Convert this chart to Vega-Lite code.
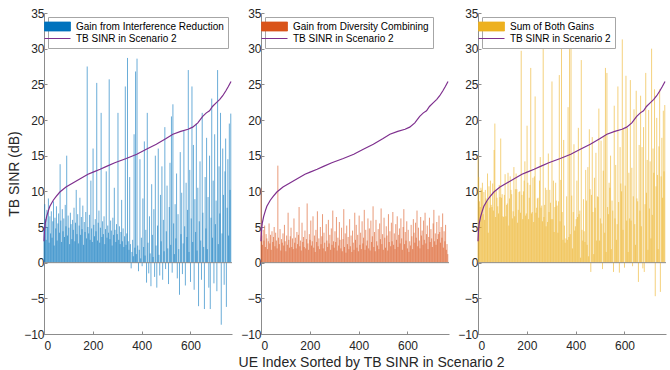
{
"$schema": "https://vega.github.io/schema/vega-lite/v6.json",
"padding": {"left": 7, "top": 7, "right": 3, "bottom": 0},
"background": "white",
"spacing": 6,
"title": {"text": "UE Index Sorted by TB SINR in Scenario 2", "orient": "bottom", "anchor": "middle", "fontSize": 14, "fontWeight": "normal", "font": "Liberation Sans", "color": "#262626", "offset": 5, "dx": 34},
"datasets": {
"ue": [
{"i":0,"a":4.5,"b":10.5,"s":15.0},{"i":3,"a":8.2,"b":3.8,"s":12.0},{"i":6,"a":6.1,"b":2.5,"s":8.6},{"i":9,"a":3.2,"b":4.6,"s":7.8},{"i":12,"a":7.4,"b":3.1,"s":10.5},{"i":15,"a":5.0,"b":5.2,"s":10.2},{"i":18,"a":9.0,"b":2.2,"s":11.2},{"i":21,"a":2.8,"b":4.0,"s":6.8},{"i":24,"a":6.5,"b":3.4,"s":9.9},{"i":27,"a":4.1,"b":1.9,"s":6.0},
{"i":30,"a":7.2,"b":3.0,"s":10.2},{"i":33,"a":3.5,"b":5.5,"s":9.0},{"i":36,"a":5.8,"b":2.7,"s":8.5},{"i":39,"a":8.6,"b":3.9,"s":12.5},{"i":42,"a":2.4,"b":1.8,"s":4.2},{"i":45,"a":6.3,"b":4.4,"s":10.7},{"i":48,"a":4.8,"b":2.9,"s":7.7},{"i":51,"a":7.9,"b":3.6,"s":11.5},{"i":54,"a":3.1,"b":5.0,"s":8.1},{"i":57,"a":5.5,"b":2.3,"s":7.8},
{"i":60,"a":6.9,"b":4.2,"s":11.1},{"i":63,"a":4.2,"b":3.1,"s":7.3},{"i":66,"a":13.8,"b":2.0,"s":15.8},{"i":69,"a":5.9,"b":13.6,"s":19.5},{"i":72,"a":2.9,"b":3.5,"s":6.4},{"i":75,"a":7.5,"b":2.6,"s":10.1},{"i":78,"a":4.4,"b":4.7,"s":9.1},{"i":81,"a":6.2,"b":1.7,"s":7.9},{"i":84,"a":3.6,"b":3.3,"s":6.9},{"i":87,"a":8.1,"b":2.8,"s":10.9},
{"i":90,"a":5.1,"b":4.1,"s":9.2},{"i":93,"a":15.0,"b":2.4,"s":17.4},{"i":96,"a":3.8,"b":5.3,"s":9.1},{"i":99,"a":6.6,"b":3.0,"s":9.6},{"i":102,"a":4.9,"b":1.6,"s":6.5},{"i":105,"a":2.6,"b":3.8,"s":6.4},{"i":108,"a":7.0,"b":2.5,"s":9.5},{"i":111,"a":5.4,"b":7.0,"s":12.4},{"i":114,"a":3.3,"b":3.2,"s":6.5},{"i":117,"a":6.0,"b":2.1,"s":8.1},
{"i":120,"a":4.6,"b":3.7,"s":8.3},{"i":123,"a":7.7,"b":4.9,"s":12.6},{"i":126,"a":3.0,"b":2.2,"s":5.2},{"i":129,"a":5.6,"b":3.4,"s":9.0},{"i":132,"a":10.2,"b":1.9,"s":12.1},{"i":135,"a":4.0,"b":6.2,"s":10.2},{"i":138,"a":6.8,"b":2.8,"s":9.6},{"i":141,"a":2.7,"b":3.5,"s":6.2},{"i":144,"a":5.2,"b":2.0,"s":7.2},{"i":147,"a":9.1,"b":4.3,"s":13.4},
{"i":150,"a":3.9,"b":2.6,"s":6.5},{"i":153,"a":6.4,"b":3.9,"s":10.3},{"i":156,"a":4.7,"b":7.8,"s":12.5},{"i":159,"a":8.0,"b":2.3,"s":10.3},{"i":162,"a":2.5,"b":3.1,"s":5.6},{"i":165,"a":5.7,"b":1.7,"s":7.4},{"i":168,"a":4.3,"b":5.6,"s":9.9},{"i":171,"a":7.1,"b":2.9,"s":10.0},{"i":174,"a":3.4,"b":3.6,"s":7.0},{"i":177,"a":27.5,"b":2.2,"s":29.7},
{"i":180,"a":5.0,"b":4.5,"s":9.5},{"i":183,"a":4.1,"b":2.0,"s":6.1},{"i":186,"a":6.7,"b":3.3,"s":10.0},{"i":189,"a":3.2,"b":8.3,"s":11.5},{"i":192,"a":11.5,"b":2.7,"s":14.2},{"i":195,"a":4.8,"b":1.8,"s":6.6},{"i":198,"a":2.9,"b":4.0,"s":6.9},{"i":201,"a":16.0,"b":3.2,"s":19.2},{"i":204,"a":5.3,"b":5.9,"s":11.2},{"i":207,"a":3.7,"b":2.4,"s":6.1},
{"i":210,"a":6.1,"b":3.0,"s":9.1},{"i":213,"a":4.4,"b":6.5,"s":10.9},{"i":216,"a":25.2,"b":2.1,"s":27.3},{"i":219,"a":3.1,"b":3.8,"s":6.9},{"i":222,"a":5.6,"b":1.5,"s":7.1},{"i":225,"a":7.3,"b":4.6,"s":11.9},{"i":228,"a":2.8,"b":2.9,"s":5.7},{"i":231,"a":4.9,"b":7.2,"s":12.1},{"i":234,"a":21.0,"b":2.3,"s":23.3},{"i":237,"a":3.6,"b":3.4,"s":7.0},
{"i":240,"a":5.8,"b":1.9,"s":7.7},{"i":243,"a":4.0,"b":5.0,"s":9.0},{"i":246,"a":6.5,"b":2.6,"s":9.1},{"i":249,"a":2.6,"b":3.7,"s":6.3},{"i":252,"a":4.7,"b":6.8,"s":11.5},{"i":255,"a":12.8,"b":2.0,"s":14.8},{"i":258,"a":3.5,"b":4.2,"s":7.7},{"i":261,"a":5.2,"b":2.8,"s":8.0},{"i":264,"a":4.2,"b":1.6,"s":5.8},{"i":267,"a":25.7,"b":5.4,"s":31.1},
{"i":270,"a":3.3,"b":3.1,"s":6.4},{"i":273,"a":5.9,"b":2.2,"s":8.1},{"i":276,"a":4.5,"b":6.0,"s":10.5},{"i":279,"a":2.4,"b":2.7,"s":5.1},{"i":282,"a":6.3,"b":3.9,"s":10.2},{"i":285,"a":3.9,"b":1.8,"s":5.7},{"i":288,"a":10.5,"b":4.8,"s":15.3},{"i":291,"a":4.6,"b":2.5,"s":7.1},{"i":294,"a":2.9,"b":7.3,"s":10.2},{"i":297,"a":5.4,"b":3.0,"s":8.4},
{"i":300,"a":4.0,"b":2.1,"s":6.1},{"i":303,"a":21.0,"b":4.4,"s":25.4},{"i":306,"a":3.2,"b":2.9,"s":6.1},{"i":309,"a":5.1,"b":6.4,"s":11.5},{"i":312,"a":2.6,"b":1.7,"s":4.3},{"i":315,"a":4.3,"b":3.5,"s":7.8},{"i":318,"a":8.8,"b":2.4,"s":11.2},{"i":321,"a":3.0,"b":5.7,"s":8.7},{"i":324,"a":4.8,"b":3.2,"s":8.0},{"i":327,"a":2.2,"b":2.0,"s":4.2},
{"i":330,"a":3.7,"b":4.9,"s":8.6},{"i":333,"a":24.7,"b":1.6,"s":26.3},{"i":336,"a":2.5,"b":3.3,"s":5.8},{"i":339,"a":4.1,"b":7.5,"s":11.6},{"i":342,"a":28.7,"b":2.2,"s":30.9},{"i":345,"a":3.0,"b":4.1,"s":7.1},{"i":348,"a":1.8,"b":1.4,"s":3.2},{"i":351,"a":12.0,"b":5.2,"s":17.2},{"i":354,"a":2.6,"b":2.6,"s":5.2},{"i":357,"a":-0.8,"b":3.6,"s":2.8},
{"i":360,"a":1.5,"b":1.9,"s":3.4},{"i":363,"a":3.2,"b":6.1,"s":9.3},{"i":366,"a":0.9,"b":2.3,"s":3.2},{"i":369,"a":18.0,"b":3.8,"s":21.8},{"i":372,"a":2.1,"b":1.5,"s":3.6},{"i":375,"a":26.8,"b":4.5,"s":31.3},{"i":378,"a":1.2,"b":2.8,"s":4.0},{"i":381,"a":28.6,"b":1.8,"s":30.4},{"i":384,"a":2.4,"b":7.0,"s":9.4},{"i":387,"a":-1.2,"b":3.2,"s":2.0},
{"i":390,"a":1.8,"b":5.3,"s":7.1},{"i":393,"a":14.5,"b":2.1,"s":16.6},{"i":396,"a":0.6,"b":3.9,"s":4.5},{"i":399,"a":3.5,"b":1.6,"s":5.1},{"i":402,"a":-0.5,"b":6.6,"s":6.1},{"i":405,"a":9.0,"b":2.5,"s":11.5},{"i":408,"a":2.2,"b":4.2,"s":6.4},{"i":411,"a":17.0,"b":1.9,"s":18.9},{"i":414,"a":1.0,"b":5.8,"s":6.8},{"i":417,"a":4.6,"b":2.7,"s":7.3},
{"i":420,"a":-2.8,"b":3.5,"s":0.7},{"i":423,"a":21.0,"b":7.4,"s":28.4},{"i":426,"a":2.8,"b":1.8,"s":4.6},{"i":429,"a":-1.5,"b":4.6,"s":3.1},{"i":432,"a":6.5,"b":2.4,"s":8.9},{"i":435,"a":1.3,"b":3.1,"s":4.4},{"i":438,"a":-3.3,"b":6.2,"s":2.9},{"i":441,"a":11.0,"b":2.0,"s":13.0},{"i":444,"a":3.9,"b":4.8,"s":8.7},{"i":447,"a":0.8,"b":1.7,"s":2.5},
{"i":450,"a":7.5,"b":5.9,"s":13.4},{"i":453,"a":-2.0,"b":2.9,"s":0.9},{"i":456,"a":15.0,"b":3.7,"s":18.7},{"i":459,"a":2.4,"b":7.9,"s":10.3},{"i":462,"a":-3.5,"b":2.2,"s":-1.3},{"i":465,"a":5.2,"b":4.3,"s":9.5},{"i":468,"a":16.0,"b":1.6,"s":17.6},{"i":471,"a":1.1,"b":6.0,"s":7.1},{"i":474,"a":-1.8,"b":3.0,"s":1.2},{"i":477,"a":9.5,"b":2.4,"s":11.9},
{"i":480,"a":3.0,"b":4.7,"s":7.7},{"i":483,"a":13.5,"b":1.9,"s":15.4},{"i":486,"a":-2.4,"b":5.5,"s":3.1},{"i":489,"a":6.0,"b":3.3,"s":9.3},{"i":492,"a":1.6,"b":7.6,"s":9.2},{"i":495,"a":19.0,"b":2.6,"s":21.6},{"i":498,"a":-0.9,"b":4.0,"s":3.1},{"i":501,"a":4.4,"b":1.8,"s":6.2},{"i":504,"a":10.8,"b":6.3,"s":17.1},{"i":507,"a":2.0,"b":3.5,"s":5.5},
{"i":510,"a":-3.0,"b":2.1,"s":-0.9},{"i":513,"a":7.8,"b":5.1,"s":12.9},{"i":516,"a":14.0,"b":3.8,"s":17.8},{"i":519,"a":2.5,"b":1.7,"s":4.2},{"i":522,"a":20.5,"b":6.8,"s":27.3},{"i":525,"a":-1.4,"b":2.9,"s":1.5},{"i":528,"a":22.2,"b":4.4,"s":26.6},{"i":531,"a":5.5,"b":2.3,"s":7.8},{"i":534,"a":1.2,"b":5.6,"s":6.8},{"i":537,"a":8.2,"b":3.0,"s":11.2},
{"i":540,"a":3.4,"b":7.1,"s":10.5},{"i":543,"a":12.5,"b":2.5,"s":15.0},{"i":546,"a":-2.2,"b":4.1,"s":1.9},{"i":549,"a":6.8,"b":1.9,"s":8.7},{"i":552,"a":1.9,"b":5.4,"s":7.3},{"i":555,"a":-4.5,"b":3.2,"s":-1.3},{"i":558,"a":15.5,"b":6.5,"s":22.0},{"i":561,"a":4.0,"b":2.2,"s":6.2},{"i":564,"a":9.8,"b":3.9,"s":13.7},{"i":567,"a":-1.6,"b":4.8,"s":3.2},
{"i":570,"a":2.7,"b":2.7,"s":5.4},{"i":573,"a":18.5,"b":6.2,"s":24.7},{"i":576,"a":5.1,"b":3.4,"s":8.5},{"i":579,"a":-3.2,"b":1.8,"s":-1.4},{"i":582,"a":11.2,"b":5.0,"s":16.2},{"i":585,"a":3.6,"b":7.5,"s":11.1},{"i":588,"a":7.4,"b":2.6,"s":10.0},{"i":591,"a":27.0,"b":4.3,"s":31.3},{"i":594,"a":1.5,"b":3.1,"s":4.6},{"i":597,"a":13.0,"b":5.8,"s":18.8},
{"i":600,"a":-2.7,"b":2.0,"s":-0.7},{"i":603,"a":6.2,"b":4.6,"s":10.8},{"i":606,"a":24.7,"b":1.5,"s":26.2},{"i":609,"a":2.9,"b":3.0,"s":5.9},{"i":612,"a":16.5,"b":2.4,"s":18.9},{"i":615,"a":-3.8,"b":5.3,"s":1.5},{"i":618,"a":8.9,"b":3.7,"s":12.6},{"i":621,"a":4.3,"b":1.9,"s":6.2},{"i":624,"a":19.5,"b":6.1,"s":25.6},{"i":627,"a":1.7,"b":4.2,"s":5.9},
{"i":630,"a":10.5,"b":2.8,"s":13.3},{"i":633,"a":-6.1,"b":5.6,"s":-0.5},{"i":636,"a":5.8,"b":3.5,"s":9.3},{"i":639,"a":14.2,"b":7.3,"s":21.5},{"i":642,"a":3.1,"b":2.3,"s":5.4},{"i":645,"a":-2.4,"b":4.9,"s":2.5},{"i":648,"a":21.0,"b":3.1,"s":24.1},{"i":651,"a":7.0,"b":2.0,"s":9.0},{"i":654,"a":2.2,"b":6.4,"s":8.6},{"i":657,"a":-6.5,"b":3.8,"s":-2.7},
{"i":660,"a":12.0,"b":4.5,"s":16.5},{"i":663,"a":4.8,"b":2.5,"s":7.3},{"i":666,"a":17.5,"b":5.9,"s":23.4},{"i":669,"a":1.9,"b":3.2,"s":5.1},{"i":672,"a":9.2,"b":7.0,"s":16.2},{"i":675,"a":-3.5,"b":2.7,"s":-0.8},{"i":678,"a":15.0,"b":4.0,"s":19.0},{"i":681,"a":-6.5,"b":5.2,"s":-1.3},{"i":684,"a":6.3,"b":1.9,"s":8.2},{"i":687,"a":23.0,"b":3.6,"s":26.6},
{"i":690,"a":3.5,"b":6.3,"s":9.8},{"i":693,"a":11.5,"b":2.9,"s":14.4},{"i":696,"a":-2.9,"b":4.7,"s":1.8},{"i":699,"a":18.0,"b":3.4,"s":21.4},{"i":702,"a":5.4,"b":2.2,"s":7.6},{"i":705,"a":8.7,"b":5.5,"s":14.2},{"i":708,"a":-4.0,"b":7.4,"s":3.4},{"i":711,"a":27.0,"b":3.0,"s":30.0},{"i":714,"a":2.6,"b":4.1,"s":6.7},{"i":717,"a":13.5,"b":2.5,"s":16.0},
{"i":720,"a":6.9,"b":5.7,"s":12.6},{"i":723,"a":21.0,"b":3.3,"s":24.3},{"i":726,"a":-8.7,"b":4.0,"s":-4.7},{"i":729,"a":4.1,"b":6.6,"s":10.7},{"i":732,"a":16.0,"b":4.3,"s":20.3},{"i":735,"a":9.5,"b":2.8,"s":12.3},{"i":738,"a":-3.1,"b":5.0,"s":1.9},{"i":741,"a":12.8,"b":3.5,"s":16.3},{"i":744,"a":17.4,"b":6.9,"s":24.3},{"i":747,"a":-6.2,"b":2.1,"s":-4.1},
{"i":750,"a":7.7,"b":4.4,"s":12.1},{"i":753,"a":14.5,"b":3.0,"s":17.5},{"i":756,"a":3.8,"b":5.3,"s":9.1},{"i":759,"a":19.5,"b":1.8,"s":21.3},{"i":762,"a":10.2,"b":2.6,"s":12.8},{"i":765,"a":20.9,"b":1.2,"s":22.1}
],
"sinr": [
{"i":0,"v":3.0},{"i":2,"v":4.5},{"i":5,"v":5.5},{"i":11,"v":6.5},{"i":18,"v":7.3},{"i":24,"v":7.9},{"i":38,"v":8.75},{"i":50,"v":9.3},{"i":65,"v":9.9},{"i":90,"v":10.6},{"i":120,"v":11.2},{"i":150,"v":11.8},{"i":180,"v":12.4},{"i":201,"v":12.7},{"i":230,"v":13.1},{"i":256,"v":13.5},{"i":290,"v":14.0},{"i":337,"v":14.6},{"i":380,"v":15.2},{"i":419,"v":15.9},{"i":460,"v":16.6},{"i":500,"v":17.4},{"i":528,"v":18.0},{"i":560,"v":18.4},{"i":590,"v":18.7},{"i":609,"v":19.0},{"i":630,"v":19.6},{"i":650,"v":20.5},{"i":665,"v":21.0},{"i":678,"v":21.3},{"i":690,"v":21.9},{"i":705,"v":22.4},{"i":720,"v":22.9},{"i":732,"v":23.4},{"i":745,"v":24.1},{"i":755,"v":24.7},{"i":766,"v":25.4}
]
},
"hconcat": [
{
"width": 188, "height": 321,
"layer": [
{"data": {"name": "ue"}, "mark": {"type": "rule", "strokeWidth": 0.75},
"encoding": {
"x": {"field": "i", "type": "quantitative", "scale": {"domain": [0, 770], "nice": false}, "axis": {"values": [0, 200, 400, 600], "title": null}},
"y": {"field": "a", "type": "quantitative", "scale": {"domain": [-10, 35], "nice": false}, "axis": {"values": [-10, -5, 0, 5, 10, 15, 20, 25, 30, 35], "title": "TB SINR (dB)"}},
"y2": {"datum": 0},
"color": {"datum": "Gain from Interference Reduction", "type": "nominal",
"scale": {"domain": ["Gain from Interference Reduction", "TB SINR in Scenario 2"], "range": ["rgba(0,114,189,0.78)", "#7E2F8E"]},
"legend": {"title": null, "orient": "top-left", "offset": 4,
"encode": {"symbols": {"update": {
"shape": {"signal": "datum.value === 'TB SINR in Scenario 2' ? 'M-2.6,0H2.6' : 'M-2.6,-0.9H2.6V0.9H-2.6Z'"},
"fill": {"signal": "datum.value === 'TB SINR in Scenario 2' ? 'transparent' : '#0072BD'"},
"stroke": {"signal": "datum.value === 'TB SINR in Scenario 2' ? '#7E2F8E' : 'transparent'"},
"strokeWidth": {"value": 1}, "size": {"value": 100}, "opacity": {"value": 1}}}}}}
}},
{"data": {"values": [{}]}, "mark": {"type": "rule", "color": "#8c8c8c", "strokeWidth": 1},
"encoding": {"y": {"datum": 0, "type": "quantitative", "axis": {"values": [-10, -5, 0, 5, 10, 15, 20, 25, 30, 35], "title": "TB SINR (dB)"}}}},
{"data": {"name": "sinr"}, "mark": {"type": "line", "strokeWidth": 1.2},
"encoding": {"x": {"field": "i", "type": "quantitative", "axis": {"values": [0, 200, 400, 600], "title": null}}, "y": {"field": "v", "type": "quantitative", "axis": {"values": [-10, -5, 0, 5, 10, 15, 20, 25, 30, 35], "title": "TB SINR (dB)"}}, "color": {"datum": "TB SINR in Scenario 2", "type": "nominal"}}}
]
},
{
"width": 188, "height": 321,
"layer": [
{"data": {"name": "ue"}, "mark": {"type": "rule", "strokeWidth": 0.75},
"encoding": {
"x": {"field": "i", "type": "quantitative", "scale": {"domain": [0, 770], "nice": false}, "axis": {"values": [0, 200, 400, 600], "title": null}},
"y": {"field": "b", "type": "quantitative", "scale": {"domain": [-10, 35], "nice": false}, "axis": {"values": [-10, -5, 0, 5, 10, 15, 20, 25, 30, 35], "title": null}},
"y2": {"datum": 0},
"color": {"datum": "Gain from Diversity Combining", "type": "nominal",
"scale": {"domain": ["Gain from Diversity Combining", "TB SINR in Scenario 2"], "range": ["rgba(217,83,25,0.78)", "#7E2F8E"]},
"legend": {"title": null, "orient": "top-left", "offset": 4,
"encode": {"symbols": {"update": {
"shape": {"signal": "datum.value === 'TB SINR in Scenario 2' ? 'M-2.6,0H2.6' : 'M-2.6,-0.9H2.6V0.9H-2.6Z'"},
"fill": {"signal": "datum.value === 'TB SINR in Scenario 2' ? 'transparent' : '#D95319'"},
"stroke": {"signal": "datum.value === 'TB SINR in Scenario 2' ? '#7E2F8E' : 'transparent'"},
"strokeWidth": {"value": 1}, "size": {"value": 100}, "opacity": {"value": 1}}}}}}
}},
{"data": {"values": [{}]}, "mark": {"type": "rule", "color": "#8c8c8c", "strokeWidth": 1},
"encoding": {"y": {"datum": 0, "type": "quantitative", "axis": {"values": [-10, -5, 0, 5, 10, 15, 20, 25, 30, 35], "title": null}}}},
{"data": {"name": "sinr"}, "mark": {"type": "line", "strokeWidth": 1.2},
"encoding": {"x": {"field": "i", "type": "quantitative", "axis": {"values": [0, 200, 400, 600], "title": null}}, "y": {"field": "v", "type": "quantitative", "axis": {"values": [-10, -5, 0, 5, 10, 15, 20, 25, 30, 35], "title": null}}, "color": {"datum": "TB SINR in Scenario 2", "type": "nominal"}}}
]
},
{
"width": 188, "height": 321,
"layer": [
{"data": {"name": "ue"}, "mark": {"type": "rule", "strokeWidth": 0.75},
"encoding": {
"x": {"field": "i", "type": "quantitative", "scale": {"domain": [0, 770], "nice": false}, "axis": {"values": [0, 200, 400, 600], "title": null}},
"y": {"field": "s", "type": "quantitative", "scale": {"domain": [-10, 35], "nice": false}, "axis": {"values": [-10, -5, 0, 5, 10, 15, 20, 25, 30, 35], "title": null}},
"y2": {"datum": 0},
"color": {"datum": "Sum of Both Gains", "type": "nominal",
"scale": {"domain": ["Sum of Both Gains", "TB SINR in Scenario 2"], "range": ["rgba(237,177,32,0.78)", "#7E2F8E"]},
"legend": {"title": null, "orient": "top-left", "offset": 4,
"encode": {"symbols": {"update": {
"shape": {"signal": "datum.value === 'TB SINR in Scenario 2' ? 'M-2.6,0H2.6' : 'M-2.6,-0.9H2.6V0.9H-2.6Z'"},
"fill": {"signal": "datum.value === 'TB SINR in Scenario 2' ? 'transparent' : '#EDB120'"},
"stroke": {"signal": "datum.value === 'TB SINR in Scenario 2' ? '#7E2F8E' : 'transparent'"},
"strokeWidth": {"value": 1}, "size": {"value": 100}, "opacity": {"value": 1}}}}}}
}},
{"data": {"values": [{}]}, "mark": {"type": "rule", "color": "#8c8c8c", "strokeWidth": 1},
"encoding": {"y": {"datum": 0, "type": "quantitative", "axis": {"values": [-10, -5, 0, 5, 10, 15, 20, 25, 30, 35], "title": null}}}},
{"data": {"name": "sinr"}, "mark": {"type": "line", "strokeWidth": 1.2},
"encoding": {"x": {"field": "i", "type": "quantitative", "axis": {"values": [0, 200, 400, 600], "title": null}}, "y": {"field": "v", "type": "quantitative", "axis": {"values": [-10, -5, 0, 5, 10, 15, 20, 25, 30, 35], "title": null}}, "color": {"datum": "TB SINR in Scenario 2", "type": "nominal"}}}
]
}
],
"resolve": {"scale": {"color": "independent"}, "legend": {"color": "independent"}},
"config": {
"view": {"stroke": null},
"font": "Liberation Sans",
"axis": {"grid": false, "domainColor": "#8c8c8c", "tickColor": "#8c8c8c", "labelColor": "#262626", "labelFont": "Liberation Sans", "labelFontSize": 12, "titleFont": "Liberation Sans", "titleFontSize": 14, "titleFontWeight": "normal", "titleColor": "#262626", "tickSize": -3, "labelOverlap": false, "labelBound": false, "titlePadding": 2},
"axisX": {"labelPadding": 9},
"axisY": {"labelPadding": 3},
"legend": {"fillColor": "white", "strokeColor": "#a6a6a6", "padding": 4, "labelFontSize": 10, "labelFont": "Liberation Sans", "labelColor": "#000000", "symbolSize": 100, "labelOffset": 13, "rowPadding": 0}
}
}
